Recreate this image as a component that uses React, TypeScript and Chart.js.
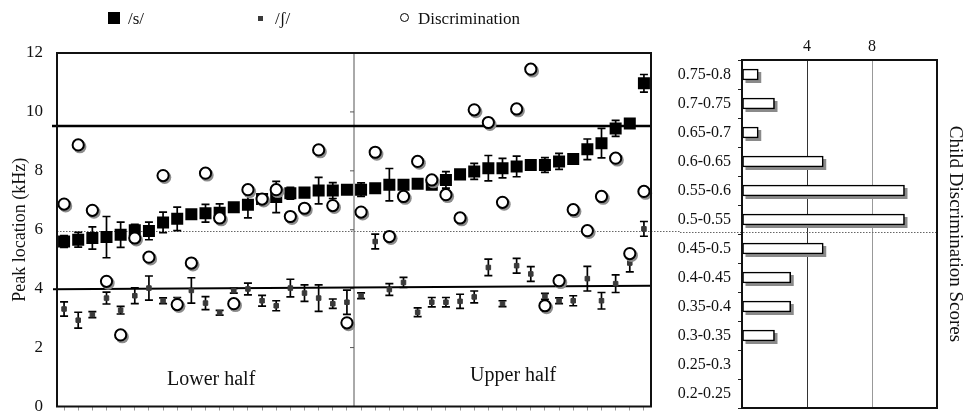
import React, { useEffect, useRef } from 'react';
import { Chart, registerables } from 'chart.js';

Chart.register(...registerables);

const FONT = "'Liberation Serif', 'Times New Roman', serif";

// ---------- Left chart data ----------
const listeners = [
  '1', '2', '3', '4', '5', '6', '7', '8', '9', '10', '11', '12', '13', '14', '15', '16', '17', '18', '19', '20', '21',
  '22', '23', '24', '25', '26', '27', '28', '29', '30', '31', '32', '33', '34', '35', '36', '37', '38', '39', '40', '41', '42',
];

const sPeak = [
  5.6, 5.66, 5.72, 5.75, 5.83, 5.98, 5.96, 6.25, 6.37, 6.53, 6.56, 6.58, 6.76, 6.85, 7.04, 7.11, 7.24, 7.26, 7.33, 7.33, 7.36,
  7.36, 7.41, 7.53, 7.53, 7.56, 7.53, 7.69, 7.88, 7.98, 8.09, 8.09, 8.15, 8.2, 8.2, 8.32, 8.4, 8.73, 8.94, 9.44, 9.61, 10.97,
];
const sErr = [
  0.2, 0.25, 0.38, 0.7, 0.43, 0.2, 0.3, 0.35, 0.4, 0.12, 0.3, 0.3, 0.05, 0.45, 0.08, 0.53, 0.2, 0.05, 0.45, 0.27, 0.08,
  0.23, 0.05, 0.55, 0.1, 0.05, 0.05, 0.28, 0.05, 0.27, 0.43, 0.33, 0.35, 0.05, 0.25, 0.27, 0.08, 0.35, 0.5, 0.27, 0.1, 0.3,
];

const shPeak = [
  3.31, 2.93, 3.12, 3.68, 3.27, 3.76, 4.02, 3.59, 3.62, 3.94, 3.51, 3.18, 3.93, 3.99, 3.59, 3.42, 4.02, 3.85, 3.68, 3.49, 3.54,
  3.76, 5.6, 3.97, 4.21, 3.2, 3.54, 3.54, 3.57, 3.72, 4.72, 3.49, 4.78, 4.5, 3.74, 3.59, 3.59, 4.34, 3.59, 4.17, 4.87, 6.03,
];
const shErr = [
  0.24, 0.27, 0.1, 0.2, 0.13, 0.27, 0.41, 0.1, 0.08, 0.43, 0.22, 0.08, 0.08, 0.2, 0.18, 0.17, 0.3, 0.28, 0.45, 0.16, 0.41,
  0.1, 0.25, 0.2, 0.17, 0.15, 0.16, 0.16, 0.24, 0.2, 0.28, 0.1, 0.25, 0.25, 0.1, 0.1, 0.17, 0.42, 0.28, 0.3, 0.3, 0.25,
];

const discrimination = [
  6.87, 8.88, 6.66, 4.25, 2.43, 5.72, 5.07, 7.84, 3.46, 4.87, 7.92, 6.4, 3.49, 7.36, 7.04, 7.36, 6.45, 6.73, 8.71, 6.82, 2.84,
  6.6, 8.63, 5.77, 7.13, 8.32, 7.69, 7.19, 6.4, 10.07, 9.64, 6.93, 10.1, 11.45, 3.42, 4.27, 6.68, 5.97, 7.13, 8.43, 5.19, 7.3,
];

const yTicks = [0, 2, 4, 6, 8, 10, 12];
const DIVIDER_AT = 20.5; // between listener 21 and 22
const THICK_LINE = 9.52;
const LOW_LINE_START = 3.98;
const LOW_LINE_END = 4.1;
const DOTTED_LINE = 5.95;
const halfLabels = [
  { text: 'Lower half', at: 10.4, v: 0.92 },
  { text: 'Upper half', at: 31.75, v: 1.03 },
];

// ---------- Right chart data ----------
const scoreBins = [
  '0.75-0.8', '0.7-0.75', '0.65-0.7', '0.6-0.65', '0.55-0.6', '0.5-0.55',
  '0.45-0.5', '0.4-0.45', '0.35-0.4', '0.3-0.35', '0.25-0.3', '0.2-0.25',
];
const binCounts = [1, 2, 1, 5, 10, 10, 5, 3, 3, 2, 0, 0];
const countTicks = [4, 8];

const leftDeco = {
  id: 'leftDeco',
  beforeDatasetsDraw(chart: any) {
    const { ctx, chartArea: a, scales } = chart;
    const x = scales.x;
    const y = scales.y;
    ctx.save();
    // divider between halves
    const dx = x.getPixelForValue(DIVIDER_AT);
    ctx.strokeStyle = '#555';
    ctx.lineWidth = 1;
    ctx.beginPath();
    ctx.moveTo(dx, a.top);
    ctx.lineTo(dx, a.bottom);
    for (const t of yTicks) {
      const py = y.getPixelForValue(t);
      ctx.moveTo(dx - 4, py);
      ctx.lineTo(dx, py);
    }
    ctx.stroke();
    // dotted line
    ctx.save();
    ctx.setLineDash([1.5, 1.5]);
    ctx.strokeStyle = '#666';
    ctx.lineWidth = 1;
    ctx.beginPath();
    const pyd = Math.round(y.getPixelForValue(DOTTED_LINE)) + 0.5;
    ctx.moveTo(a.left, pyd);
    ctx.lineTo(chart.width, pyd);
    ctx.stroke();
    ctx.restore();
    // thick line
    ctx.strokeStyle = '#000';
    ctx.lineWidth = 2.6;
    ctx.beginPath();
    const pyt = y.getPixelForValue(THICK_LINE);
    ctx.moveTo(a.left - 5, pyt);
    ctx.lineTo(a.right, pyt);
    ctx.stroke();
    // lower line
    ctx.lineWidth = 2;
    ctx.beginPath();
    ctx.moveTo(a.left - 4, y.getPixelForValue(LOW_LINE_START));
    ctx.lineTo(a.right, y.getPixelForValue(LOW_LINE_END));
    ctx.stroke();
    // half labels
    ctx.fillStyle = '#111';
    ctx.font = `20px ${FONT}`;
    ctx.textAlign = 'center';
    ctx.textBaseline = 'middle';
    for (const h of halfLabels) {
      ctx.fillText(h.text, x.getPixelForValue(h.at), y.getPixelForValue(h.v));
    }
    ctx.restore();
  },
  beforeDatasetDraw(chart: any, args: any) {
    const ds = chart.data.datasets[args.index];
    const { ctx, scales } = chart;
    const y = scales.y;
    const els = args.meta.data;
    ctx.save();
    if (ds.errors) {
      ctx.strokeStyle = '#000';
      ctx.lineWidth = 1.7;
      ctx.beginPath();
      els.forEach((el: any, i: number) => {
        const v = ds.data[i];
        const e = ds.errors[i];
        const top = y.getPixelForValue(v + e);
        const bot = y.getPixelForValue(v - e);
        ctx.moveTo(el.x, top);
        ctx.lineTo(el.x, bot);
        ctx.moveTo(el.x - 4, top);
        ctx.lineTo(el.x + 4, top);
        ctx.moveTo(el.x - 4, bot);
        ctx.lineTo(el.x + 4, bot);
      });
      ctx.stroke();
    }
    if (ds.shadow) {
      ctx.fillStyle = '#8c8c8c';
      els.forEach((el: any) => {
        ctx.beginPath();
        ctx.arc(el.x + 1.6, el.y + 1.8, 6.6, 0, Math.PI * 2);
        ctx.fill();
      });
    }
    ctx.restore();
  },
  afterDraw(chart: any) {
    const { ctx, chartArea: a } = chart;
    ctx.save();
    ctx.strokeStyle = '#111';
    ctx.lineWidth = 2;
    ctx.strokeRect(a.left, a.top, a.right - a.left, a.bottom - a.top);
    ctx.restore();
  },
};

const rightDeco = {
  id: 'rightDeco',
  beforeDatasetsDraw(chart: any) {
    const { ctx } = chart;
    const meta = chart.getDatasetMeta(0);
    ctx.save();
    ctx.fillStyle = '#8a8a8a';
    meta.data.forEach((el: any) => {
      const { x, y, base, height } = el.getProps(['x', 'y', 'base', 'height'], true);
      if (x - base > 0.5) ctx.fillRect(base + 3, y - height / 2 + 3, x - base, height);
    });
    ctx.restore();
  },
  afterDraw(chart: any) {
    const { ctx, chartArea: a, scales } = chart;
    ctx.save();
    ctx.setLineDash([1.5, 1.5]);
    ctx.strokeStyle = '#666';
    ctx.lineWidth = 1;
    const py = Math.round(scales.y.getPixelForValue(5.5)) - 1.5;
    ctx.beginPath();
    ctx.moveTo(20, py);
    ctx.lineTo(a.right - 1, py);
    ctx.stroke();
    ctx.setLineDash([]);
    ctx.strokeStyle = '#111';
    ctx.lineWidth = 2;
    ctx.strokeRect(a.left, a.top, a.right - a.left, a.bottom - a.top);
    ctx.restore();
  },
};

function PeakChart() {
  const ref = useRef<HTMLCanvasElement | null>(null);
  useEffect(() => {
    if (!ref.current) return;
    const chart = new Chart(ref.current, {
      type: 'line',
      data: {
        labels: listeners,
        datasets: [
          {
            label: 'Discrimination',
            data: discrimination,
            showLine: false,
            pointStyle: 'circle',
            pointRadius: 5.6,
            pointBackgroundColor: '#fff',
            pointBorderColor: '#000',
            pointBorderWidth: 2,
            order: 0,
            shadow: true,
            xAxisID: 'x',
            yAxisID: 'y',
          } as any,
          {
            label: '/ʃ/',
            data: shPeak,
            errors: shErr,
            showLine: false,
            pointStyle: 'rect',
            pointRadius: 3.2,
            pointBackgroundColor: '#3a3a3a',
            pointBorderColor: '#3a3a3a',
            pointBorderWidth: 1,
            order: 1,
            xAxisID: 'x',
            yAxisID: 'y',
          } as any,
          {
            label: '/s/',
            data: sPeak,
            errors: sErr,
            showLine: false,
            pointStyle: 'rect',
            pointRadius: 8.5,
            pointBackgroundColor: '#000',
            pointBorderColor: '#000',
            pointBorderWidth: 0,
            order: 2,
            xAxisID: 'x',
            yAxisID: 'y',
          } as any,
        ],
      },
      options: {
        responsive: false,
        animation: false,
        events: [],
        layout: { padding: { top: 53, right: 29, bottom: 0, left: 0 } },
        plugins: { legend: { display: false }, tooltip: { enabled: false } },
        scales: {
          x: {
            type: 'category',
            offset: true,
            ticks: { display: false },
            grid: { display: true, drawOnChartArea: false, drawTicks: true, tickLength: 4, color: '#999', offset: false },
            border: { display: false },
            afterFit: (s: any) => { s.height = 8; s.paddingLeft = 0; s.paddingRight = 0; },
          },
          y: {
            type: 'linear',
            min: 0,
            max: 12,
            ticks: { stepSize: 2, padding: 14, color: '#111', font: { family: FONT, size: 17 } },
            grid: { display: false, drawTicks: false },
            border: { display: false },
            title: {
              display: true,
              text: 'Peak location (kHz)',
              color: '#111',
              font: { family: FONT, size: 18 },
              padding: { top: 9, bottom: 0 },
            },
            afterFit: (s: any) => { s.width = 57; s.paddingTop = 0; s.paddingBottom = 0; },
          },
        },
      } as any,
      plugins: [leftDeco],
    });
    return () => chart.destroy();
  }, []);
  return <canvas ref={ref} width={680} height={415} style={{ position: 'absolute', left: 0, top: 0 }} />;
}

function ScoreChart() {
  const ref = useRef<HTMLCanvasElement | null>(null);
  useEffect(() => {
    if (!ref.current) return;
    const chart = new Chart(ref.current, {
      type: 'bar',
      data: {
        labels: scoreBins,
        datasets: [
          {
            label: 'Child Discrimination Scores',
            data: binCounts,
            backgroundColor: '#fff',
            borderColor: '#000',
            borderWidth: 1.6,
            borderSkipped: false,
            barThickness: 11,
            xAxisID: 'x',
            yAxisID: 'y',
          } as any,
        ],
      },
      options: {
        indexAxis: 'y',
        responsive: false,
        animation: false,
        events: [],
        layout: { padding: { top: 0, right: 0, bottom: 7, left: 0 } },
        plugins: { legend: { display: false }, tooltip: { enabled: false } },
        scales: {
          x: {
            type: 'linear',
            position: 'top',
            min: 0,
            max: 12,
            ticks: {
              stepSize: 4,
              padding: 4,
              color: '#111',
              font: { family: FONT, size: 16 },
              callback: (v: any) => (countTicks.includes(v) ? String(v) : ''),
            },
            grid: {
              drawTicks: false,
              lineWidth: 1,
              color: (c: any) =>
                c.tick && c.tick.value === countTicks[0] ? '#333' : c.tick && c.tick.value === countTicks[1] ? '#999' : 'rgba(0,0,0,0)',
            },
            border: { display: false },
            afterFit: (s: any) => { s.height = 60; s.paddingLeft = 0; s.paddingRight = 0; },
          },
          y: {
            type: 'category',
            position: 'left',
            ticks: { padding: 7, color: '#111', font: { family: FONT, size: 16 } },
            grid: { offset: true, drawOnChartArea: false, drawTicks: true, tickLength: 4, color: '#222' },
            border: { display: false },
            afterFit: (s: any) => { s.width = 82; s.paddingTop = 0; s.paddingBottom = 0; },
          },
          y2: {
            type: 'linear',
            position: 'right',
            min: 0,
            max: 1,
            ticks: { display: false },
            grid: { display: false, drawTicks: false },
            border: { display: false },
            title: {
              display: true,
              text: 'Child Discrimination Scores',
              color: '#111',
              font: { family: FONT, size: 19 },
              padding: { top: 3, bottom: 0 },
            },
            afterFit: (s: any) => { s.width = 32; s.paddingTop = 0; s.paddingBottom = 0; },
          },
        },
      } as any,
      plugins: [rightDeco],
    });
    return () => chart.destroy();
  }, []);
  return <canvas ref={ref} width={309} height={415} style={{ position: 'absolute', left: 660, top: 0 }} />;
}

const legendText: React.CSSProperties = {
  position: 'absolute',
  top: 9,
  fontFamily: FONT,
  fontSize: 17,
  lineHeight: '20px',
  color: '#111',
  whiteSpace: 'nowrap',
};

export default function App() {
  return (
    <div style={{ position: 'fixed', left: 0, top: 0, width: 969, height: 415, background: '#fff', overflow: 'hidden' }}>
      <PeakChart />
      <ScoreChart />
      <div style={{ position: 'absolute', left: 108, top: 12, width: 12, height: 12, background: '#000' }} />
      <span style={{ ...legendText, left: 128 }}>/s/</span>
      <div style={{ position: 'absolute', left: 258, top: 16, width: 5, height: 5, background: '#3a3a3a' }} />
      <span style={{ ...legendText, left: 275 }}>/ʃ/</span>
      <div
        style={{
          position: 'absolute',
          left: 400,
          top: 13,
          width: 7,
          height: 7,
          border: '1.5px solid #000',
          borderRadius: '50%',
          background: '#fff',
        }}
      />
      <span style={{ ...legendText, left: 418 }}>Discrimination</span>
    </div>
  );
}
